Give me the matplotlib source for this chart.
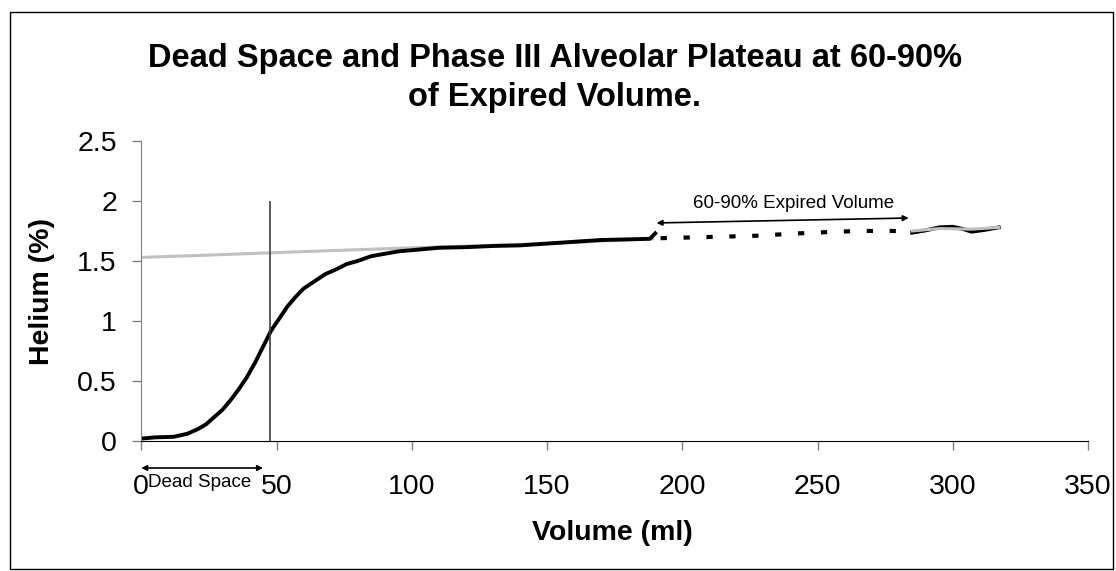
import matplotlib.pyplot as plt
import matplotlib.ticker as mtick
from matplotlib.patches import Rectangle

plt.rcParams['font.family'] = ['Liberation Sans', 'DejaVu Sans']

# measured helium trace (solid part, dead space + start of phase III)
vol = [0, 5, 12, 17, 21, 24, 27, 30, 33, 36, 39, 42, 44, 46, 48, 51, 54, 57, 60,
       64, 68, 72, 76, 80, 85, 90, 95, 100, 105, 110, 120, 130, 140, 150, 160,
       170, 180, 188, 190]
helium = [0.02, 0.03, 0.035, 0.06, 0.10, 0.14, 0.20, 0.26, 0.34, 0.43, 0.53, 0.65,
          0.74, 0.83, 0.92, 1.02, 1.12, 1.20, 1.27, 1.33, 1.39, 1.43, 1.475, 1.50,
          1.54, 1.56, 1.58, 1.59, 1.60, 1.61, 1.615, 1.625, 1.63, 1.645, 1.66,
          1.675, 1.68, 1.685, 1.73]

# 60-90% part of the trace (dashed)
vol_mid = [192, 210, 227, 243, 253, 265, 280, 284]
helium_mid = [1.69, 1.70, 1.71, 1.73, 1.74, 1.75, 1.75, 1.745]

# end of the trace
vol_end = [285, 290, 295, 300, 304, 307, 312, 317]
helium_end = [1.736, 1.755, 1.78, 1.785, 1.765, 1.744, 1.76, 1.78]

# phase III plateau line (grey)
plateau_x = [0, 20, 50, 100, 150, 189]
plateau_y = [1.53, 1.545, 1.57, 1.61, 1.645, 1.685]
plateau_end_x = [285, 295, 307, 317]
plateau_end_y = [1.75, 1.77, 1.765, 1.78]

dead_space = 47.6

fig = plt.figure(figsize=(11.16, 5.71), dpi=100)
ax = fig.add_axes([0.1266, 0.2277, 0.8483, 0.5254])

# outer chart border
fig.patches.append(Rectangle((10 / 1116, 1 - 569 / 571), 1103 / 1116, 557 / 571,
                             transform=fig.transFigure, fill=False,
                             edgecolor='black', lw=1.0))

ax.plot(plateau_x, plateau_y, color='#c0c0c0', lw=2.2)
ax.plot(vol, helium, color='black', lw=2.8)
ax.plot(vol_mid, helium_mid, color='black', lw=3, linestyle=(0, (1.5, 4)))
ax.plot(vol_end, helium_end, color='black', lw=2.8)
ax.plot(plateau_end_x, plateau_end_y, color='#c0c0c0', lw=2.2)

ax.vlines(dead_space, 0, 2.0, color='#404040', lw=1.2)

ax.annotate('', xy=(0, -0.225), xytext=(45, -0.225),
            arrowprops=dict(arrowstyle='<|-|>', color='black', lw=1.2,
                            mutation_scale=8, shrinkA=0, shrinkB=0),
            annotation_clip=False)
ax.text(21.7, -0.35, 'Dead Space', ha='center', va='center', fontsize=13.5,
        clip_on=False)

ax.annotate('', xy=(190.5, 1.817), xytext=(283.7, 1.858),
            arrowprops=dict(arrowstyle='<|-|>', color='black', lw=1.2,
                            mutation_scale=8, shrinkA=0, shrinkB=0))
ax.text(241, 1.98, '60-90% Expired Volume', ha='center', va='center', fontsize=13.5)

ax.set_xlim(0, 350)
ax.set_ylim(0, 2.5)
ax.set_xticks(range(0, 351, 50))
ax.set_yticks([0, 0.5, 1, 1.5, 2, 2.5])
ax.yaxis.set_major_formatter(mtick.FormatStrFormatter('%g'))

ax.spines['top'].set_visible(False)
ax.spines['right'].set_visible(False)
ax.spines['left'].set_color('#808080')
ax.spines['bottom'].set_color('black')
ax.tick_params(axis='both', direction='out', length=6.5, width=1,
               color='#808080', labelsize=20.5)
ax.tick_params(axis='x', pad=17)
ax.tick_params(axis='y', pad=11)

fig.text(0.497, 0.882, 'Dead Space and Phase III Alveolar Plateau at 60-90%',
         ha='center', va='baseline', fontsize=23.5, fontweight='bold')
fig.text(0.497, 0.814, 'of Expired Volume.', ha='center', va='baseline',
         fontsize=23.5, fontweight='bold')
fig.text(0.549, 0.054, 'Volume (ml)', ha='center', va='baseline',
         fontsize=20.5, fontweight='bold')
fig.text(0.038, 0.49, 'Helium (%)', ha='center', va='center', rotation=90,
         fontsize=20.5, fontweight='bold')

plt.savefig('out.png', dpi=100)
